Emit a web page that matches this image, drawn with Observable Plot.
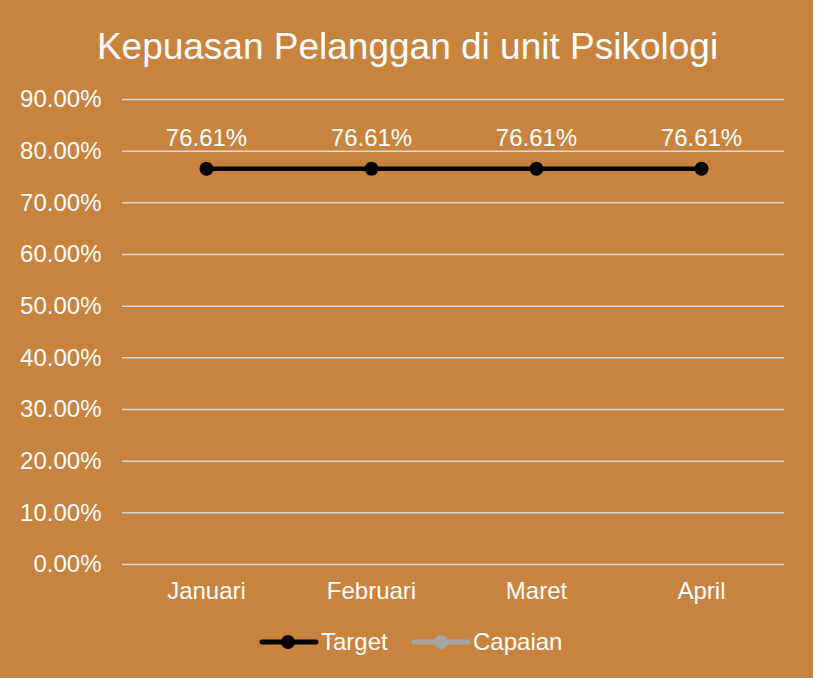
<!DOCTYPE html>
<html><head><meta charset="utf-8">
<script src="https://cdn.jsdelivr.net/npm/d3@7"></script>
<script src="https://cdn.jsdelivr.net/npm/@observablehq/plot@0.6"></script>
<style>
body{margin:0;background:#fff;font-family:"Liberation Sans",Arial,sans-serif;}
#wrap{position:relative;width:813px;height:678px;background:#C8843E;overflow:hidden;}
#title{position:absolute;top:25px;left:0;width:815px;text-align:center;color:#fff;font-size:37px;line-height:44px;}
#chart{position:absolute;top:80px;left:0;}
#legend{position:absolute;top:626px;left:0;}
</style></head>
<body>
<div id="wrap">
  <div id="title">Kepuasan Pelanggan di unit Psikologi</div>
  <div id="chart"></div>
  <svg id="legend" width="813" height="34"></svg>
</div>
<script>
const months = ["Januari", "Februari", "Maret", "April"];
const target = [0.7661, 0.7661, 0.7661, 0.7661];
const capaian = [null, null, null, null];
const yTicks = [0, 0.1, 0.2, 0.3, 0.4, 0.5, 0.6, 0.7, 0.8, 0.9];
const seriesNames = ["Target", "Capaian"];
const seriesColors = ["#000000", "#A5A5A5"];

const data = months.map((m, i) => ({month: m, target: target[i], capaian: capaian[i]}));
const fmt = d => (d * 100).toFixed(2) + "%";
const FONT = "'Liberation Sans', Arial, sans-serif";

const chart = Plot.plot({
  width: 813,
  height: 535,
  marginLeft: 122,
  marginRight: 29,
  marginTop: 19,
  marginBottom: 51,
  style: {background: "transparent", color: "#fff", fontSize: "24px", fontFamily: FONT},
  x: {type: "point", domain: months, padding: 0.5, label: null},
  y: {domain: [0, 0.9], label: null},
  marks: [
    Plot.ruleY(yTicks, {stroke: "#D9D9D9", strokeWidth: 1.5}),
    Plot.axisY({ticks: yTicks, tickFormat: fmt, tickSize: 0, tickPadding: 21, label: null, fill: "#fff", fontSize: 24}),
    Plot.axisX({tickSize: 0, tickPadding: 17, label: null, fill: "#fff", fontSize: 24}),
    Plot.line(data.filter(d => d.capaian != null), {x: "month", y: "capaian", stroke: seriesColors[1], strokeWidth: 4}),
    Plot.line(data, {x: "month", y: "target", stroke: seriesColors[0], strokeWidth: 4.5}),
    Plot.dot(data, {x: "month", y: "target", r: 7, fill: seriesColors[0], stroke: null}),
    Plot.text(data, {x: "month", y: "target", text: d => fmt(d.target), dy: -30, fill: "#fff", fontSize: 24})
  ]
});
document.getElementById("chart").appendChild(chart);

// legend
const leg = d3.select("#legend");
const items = [{x0: 262, cx: 288, x1: 316, tx: 321}, {x0: 414, cx: 441, x1: 468, tx: 473}];
items.forEach((it, i) => {
  const g = leg.append("g");
  g.append("line").attr("x1", it.x0).attr("x2", it.x1).attr("y1", 16).attr("y2", 16)
    .attr("stroke", seriesColors[i]).attr("stroke-width", 5).attr("stroke-linecap", "round");
  g.append("circle").attr("cx", it.cx).attr("cy", 16).attr("r", 7).attr("fill", seriesColors[i]);
  g.append("text").attr("x", it.tx).attr("y", 16).attr("dy", "0.35em").attr("fill", "#fff")
    .attr("font-size", 24).attr("font-family", FONT).text(seriesNames[i]);
});
</script>
</body></html>
